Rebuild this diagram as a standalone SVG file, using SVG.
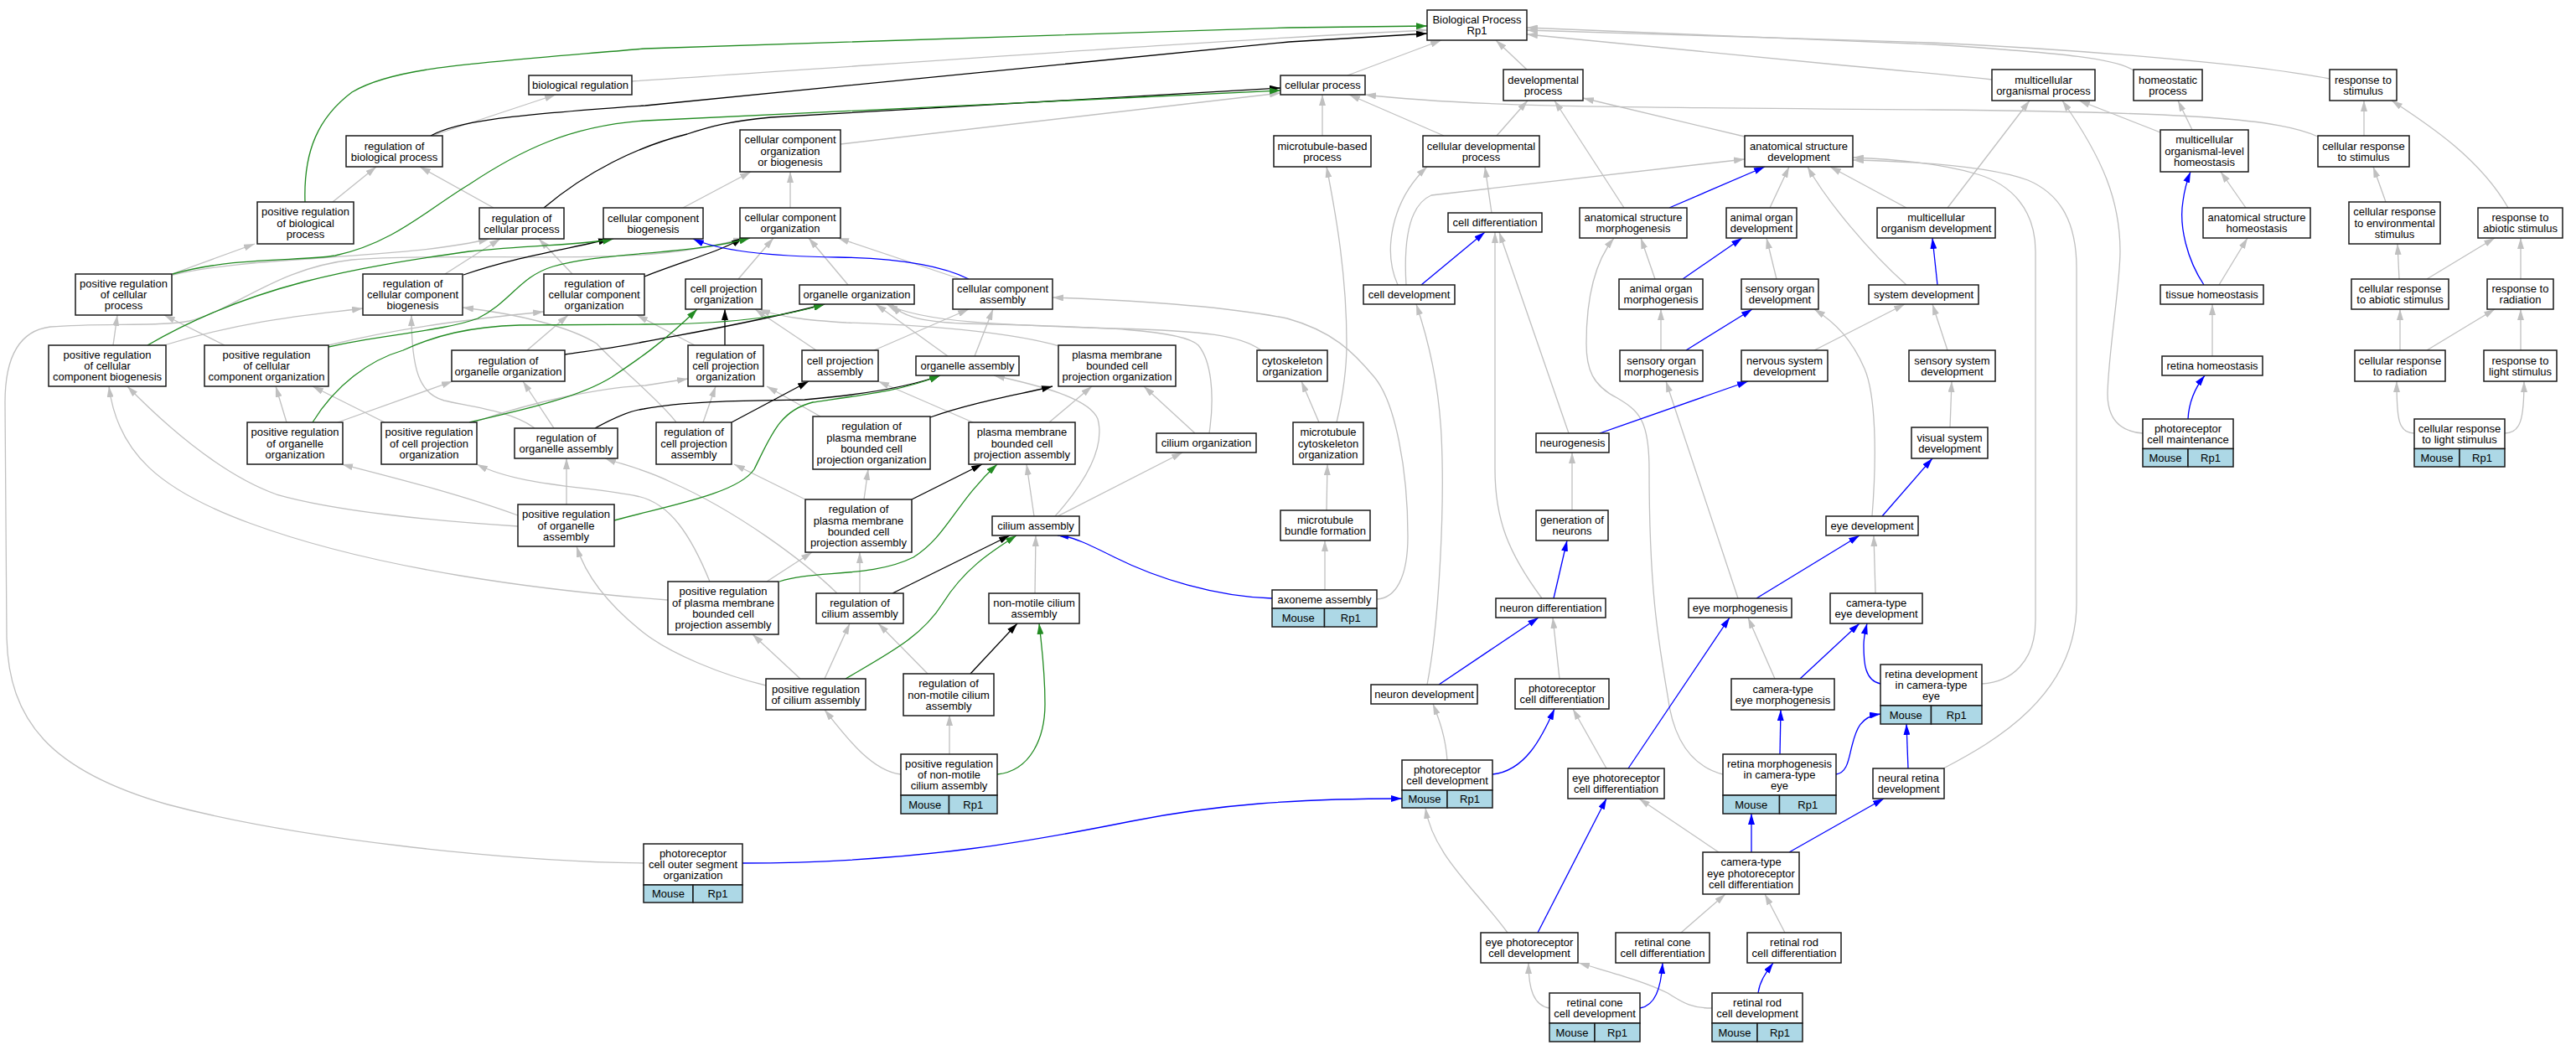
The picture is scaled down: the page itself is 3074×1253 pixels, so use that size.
<svg xmlns="http://www.w3.org/2000/svg" width="3074" height="1253" viewBox="0 0 3074 1253">
<style>
rect{fill:#fff;stroke:#1a1a1a;stroke-width:1.5}
rect.gc{fill:#add8e6}
text{font-family:"Liberation Sans",Arial,sans-serif;font-size:13px;text-anchor:middle;fill:#000}
#edges path{fill:none;stroke-width:1.3}
path.g{stroke:#c0c0c0}
path.k{stroke:#000}
path.gr{stroke:#228b22}
path.b{stroke:#0000ff}
</style>
<defs>
<marker id="ag" viewBox="0 0 13 8" refX="13" refY="4" markerWidth="13" markerHeight="8" markerUnits="userSpaceOnUse" orient="auto"><path d="M0,0L13,4L0,8z" fill="#c0c0c0"/></marker>
<marker id="ak" viewBox="0 0 13 8" refX="13" refY="4" markerWidth="13" markerHeight="8" markerUnits="userSpaceOnUse" orient="auto"><path d="M0,0L13,4L0,8z" fill="#000"/></marker>
<marker id="agr" viewBox="0 0 13 8" refX="13" refY="4" markerWidth="13" markerHeight="8" markerUnits="userSpaceOnUse" orient="auto"><path d="M0,0L13,4L0,8z" fill="#228b22"/></marker>
<marker id="ab" viewBox="0 0 13 8" refX="13" refY="4" markerWidth="13" markerHeight="8" markerUnits="userSpaceOnUse" orient="auto"><path d="M0,0L13,4L0,8z" fill="#0000ff"/></marker>
</defs>
<rect x="0" y="0" width="3074" height="1253" style="fill:#fff;stroke:none"/>
<g id="edges">
<g marker-end="url(#ag)">
<path class="g" d="M754,97 C1100,74 1450,48 1703,36"/>
<path class="g" d="M1608,90 L1720,48"/>
<path class="g" d="M1822,83 L1785,48"/>
<path class="g" d="M2377,95 C2340,91 2300,87 2200,78 L1822,41"/>
<path class="g" d="M2546,84 C2525,70 2470,64 2306,53 L1822,33"/>
<path class="g" d="M2780,94 C2700,78 2500,60 2306,51 L1822,36"/>
<path class="g" d="M515,162 L663,113"/>
<path class="g" d="M397,241 L449,199"/>
<path class="g" d="M589,248 L501,199"/>
<path class="g" d="M205,327 L304,291"/>
<path class="g" d="M206,328 C300,305 480,310 584,285"/>
<path class="g" d="M1003,172 L1528,111"/>
<path class="g" d="M1578,162 L1578,113"/>
<path class="g" d="M1723,162 L1610,113"/>
<path class="g" d="M1786,162 L1823,120"/>
<path class="g" d="M2082,163 L1889,117"/>
<path class="g" d="M2766,163 C2720,142 2620,134 2306,131 C1900,128 1750,127 1629,113"/>
<path class="g" d="M815,248 L896,205"/>
<path class="g" d="M943,248 L943,205"/>
<path class="g" d="M1780,254 L1772,199"/>
<path class="g" d="M1668,340 C1650,300 1660,240 1703,199"/>
<path class="g" d="M1678,340 C1675,290 1680,245 1708,233 L2082,190"/>
<path class="g" d="M1938,248 L1855,120"/>
<path class="g" d="M2112,248 L2135,199"/>
<path class="g" d="M2275,248 L2184,199"/>
<path class="g" d="M2324,248 L2422,120"/>
<path class="g" d="M2275,340 C2230,300 2180,240 2157,199"/>
<path class="g" d="M1975,333 L1958,284"/>
<path class="g" d="M2120,333 L2108,284"/>
<path class="g" d="M1982,418 L1982,369"/>
<path class="g" d="M2165,418 L2273,363"/>
<path class="g" d="M2324,418 L2306,363"/>
<path class="g" d="M2234,616 C2240,540 2238,470 2225,440 C2210,405 2190,385 2165,369"/>
<path class="g" d="M2327,510 L2329,455"/>
<path class="g" d="M1872,517 L1789,277"/>
<path class="g" d="M1840,714 C1800,660 1784,620 1784,560 L1784,277"/>
<path class="g" d="M1876,609 L1876,540"/>
<path class="g" d="M2074,714 L1988,455"/>
<path class="g" d="M2238,708 L2236,639"/>
<path class="g" d="M1703,817 C1718,740 1724,600 1720,520 C1717,460 1706,410 1690,363"/>
<path class="g" d="M1861,810 L1853,737"/>
<path class="g" d="M2118,810 L2086,737"/>
<path class="g" d="M1727,907 C1725,880 1718,860 1710,840"/>
<path class="g" d="M2056,924 C2010,912 1995,870 1990,830 C1978,760 1968,700 1968,560 C1968,500 1955,490 1930,475 C1900,460 1893,440 1893,410 C1893,350 1905,310 1926,284"/>
<path class="g" d="M1917,917 L1877,846"/>
<path class="g" d="M2051,1017 L1956,953"/>
<path class="g" d="M1799,1113 C1760,1060 1710,1020 1701,964"/>
<path class="g" d="M2006,1113 L2059,1067"/>
<path class="g" d="M2130,1113 L2106,1067"/>
<path class="g" d="M1849,1203 C1830,1200 1824,1180 1824,1149"/>
<path class="g" d="M2043,1203 C2020,1203 2010,1198 1990,1185 C1960,1170 1920,1160 1884,1149"/>
<path class="g" d="M2365,816 C2400,814 2429,790 2429,740 L2429,300 C2429,250 2400,220 2360,208 C2320,196 2260,190 2211,188"/>
<path class="g" d="M2319,917 C2380,885 2478,830 2478,720 L2478,320 C2478,260 2455,230 2420,215 C2380,200 2300,193 2211,191"/>
<path class="g" d="M2557,517 C2530,515 2515,500 2515,470 C2516,420 2530,340 2530,300 C2530,240 2510,190 2461,120"/>
<path class="g" d="M2640,425 L2640,363"/>
<path class="g" d="M2648,340 L2682,284"/>
<path class="g" d="M2680,248 L2650,205"/>
<path class="g" d="M2616,155 L2599,120"/>
<path class="g" d="M2578,158 L2481,120"/>
<path class="g" d="M2821,162 L2821,120"/>
<path class="g" d="M2847,241 L2832,199"/>
<path class="g" d="M2993,248 C2960,190 2900,150 2854,120"/>
<path class="g" d="M2863,333 L2861,291"/>
<path class="g" d="M2896,333 L2977,284"/>
<path class="g" d="M3008,333 L3008,284"/>
<path class="g" d="M2864,418 L2864,369"/>
<path class="g" d="M2896,418 L2977,369"/>
<path class="g" d="M3008,418 L3008,369"/>
<path class="g" d="M2881,517 C2862,517 2860,500 2860,455"/>
<path class="g" d="M2989,517 C3008,517 3012,500 3012,455"/>
<path class="g" d="M135,412 L140,376"/>
<path class="g" d="M268,412 L196,376"/>
<path class="g" d="M196,412 C300,380 380,375 433,368"/>
<path class="g" d="M392,412 C480,390 570,380 649,372"/>
<path class="g" d="M531,327 L597,285"/>
<path class="g" d="M683,327 L643,285"/>
<path class="g" d="M629,418 L678,376"/>
<path class="g" d="M829,412 L760,376"/>
<path class="g" d="M638,511 C610,490 560,485 530,478 C500,470 491,440 491,376"/>
<path class="g" d="M807,504 C790,480 740,440 712,410 C680,390 620,375 552,367"/>
<path class="g" d="M839,504 L854,461"/>
<path class="g" d="M979,497 L915,461"/>
<path class="g" d="M974,418 L901,369"/>
<path class="g" d="M1043,418 L1156,369"/>
<path class="g" d="M1131,425 L1045,363"/>
<path class="g" d="M1163,425 L1185,369"/>
<path class="g" d="M1264,413 C1200,395 1100,388 1010,385 C960,382 930,378 906,369"/>
<path class="g" d="M1252,504 L1303,461"/>
<path class="g" d="M1161,504 L1048,455"/>
<path class="g" d="M1426,517 L1365,461"/>
<path class="g" d="M1443,517 C1450,470 1445,430 1430,412 C1410,392 1300,390 1150,386 C1095,384 1075,376 1064,363"/>
<path class="g" d="M1505,418 C1480,400 1440,395 1330,392 C1200,388 1100,385 1058,363"/>
<path class="g" d="M1031,596 L1036,560"/>
<path class="g" d="M961,596 L876,554"/>
<path class="g" d="M1234,616 L1225,554"/>
<path class="g" d="M1259,616 C1300,570 1318,530 1310,500 C1300,475 1240,460 1186,448"/>
<path class="g" d="M1262,616 L1411,540"/>
<path class="g" d="M459,504 L373,461"/>
<path class="g" d="M342,504 L329,461"/>
<path class="g" d="M403,504 L540,455"/>
<path class="g" d="M565,504 C640,478 720,462 770,460 L821,452"/>
<path class="g" d="M661,511 L624,455"/>
<path class="g" d="M676,602 L676,547"/>
<path class="g" d="M618,615 C550,590 470,570 408,554"/>
<path class="g" d="M618,628 C520,622 400,610 330,590 C260,565 190,500 152,461"/>
<path class="g" d="M797,716 C650,705 450,680 300,625 C190,585 140,540 130,461"/>
<path class="g" d="M847,694 C825,640 800,600 760,592 C700,580 620,580 569,554"/>
<path class="g" d="M915,694 L969,659"/>
<path class="g" d="M1026,708 L1026,659"/>
<path class="g" d="M999,708 C960,670 880,610 800,575 C770,560 745,555 722,547"/>
<path class="g" d="M984,810 L1014,744"/>
<path class="g" d="M955,810 L898,757"/>
<path class="g" d="M914,818 C860,805 800,780 768,755 C730,725 700,690 688,652"/>
<path class="g" d="M1107,804 L1048,744"/>
<path class="g" d="M1235,708 L1236,639"/>
<path class="g" d="M1133,900 L1133,853"/>
<path class="g" d="M1075,924 C1040,920 1010,880 984,847"/>
<path class="g" d="M1581,704 L1581,645"/>
<path class="g" d="M1583,609 L1584,554"/>
<path class="g" d="M1574,504 L1553,455"/>
<path class="g" d="M1595,504 C1603,470 1607,440 1607,410 C1607,330 1595,260 1583,199"/>
<path class="g" d="M1643,715 C1665,714 1680,690 1680,640 C1680,560 1665,480 1640,450 C1615,420 1590,395 1536,380 C1460,365 1340,358 1256,355"/>
<path class="g" d="M768,1030 C600,1028 350,1000 200,960 C60,920 10,860 8,760 L6,480 C6,430 20,395 60,390 C120,385 190,390 226,383 C280,370 330,320 420,310 C520,302 700,312 790,302 C830,298 860,292 888,284"/>
<path class="g" d="M881,333 L923,284"/>
<path class="g" d="M1012,340 L965,284"/>
<path class="g" d="M1146,333 L1000,284"/>
</g>
<g marker-end="url(#ak)">
<path class="k" d="M514,162 C545,145 600,138 770,126 L1538,50 L1703,40"/>
<path class="k" d="M649,248 C700,205 760,175 820,160 C850,150 870,145 920,140 L1528,105"/>
<path class="k" d="M553,328 C620,305 690,295 727,285"/>
<path class="k" d="M769,330 C820,310 860,300 886,284"/>
<path class="k" d="M674,423 C700,419 740,414 768,408 C820,398 900,385 984,363"/>
<path class="k" d="M865,412 L865,369"/>
<path class="k" d="M873,504 L965,455"/>
<path class="k" d="M710,511 C730,500 750,490 768,488 C820,478 900,478 960,477 C1040,470 1090,460 1122,448"/>
<path class="k" d="M1110,498 C1160,480 1220,470 1256,461"/>
<path class="k" d="M1088,596 L1172,554"/>
<path class="k" d="M1065,708 L1205,639"/>
<path class="k" d="M1158,804 L1214,744"/>
</g>
<g marker-end="url(#agr)">
<path class="gr" d="M364,241 C362,180 380,140 420,110 C470,80 560,76 770,58 L1538,33 L1703,31"/>
<path class="gr" d="M206,327 C280,306 360,312 400,305 C470,290 510,250 560,220 C620,180 680,150 770,144 L1528,108"/>
<path class="gr" d="M176,412 C300,340 420,320 560,300 C640,292 700,292 732,285"/>
<path class="gr" d="M392,414 C450,400 530,395 570,380 C610,360 620,330 660,318 C720,300 820,305 895,284"/>
<path class="gr" d="M373,504 C400,460 440,430 481,418 C520,400 560,390 620,388 L770,387 C850,387 930,380 984,363"/>
<path class="gr" d="M560,504 C620,490 690,475 730,450 C760,430 790,410 832,369"/>
<path class="gr" d="M733,621 C790,605 880,590 900,560 C920,520 930,490 970,480 C1040,470 1080,465 1122,448"/>
<path class="gr" d="M930,694 C970,680 1040,690 1090,665 C1130,640 1140,600 1190,554"/>
<path class="gr" d="M1009,810 C1060,780 1100,760 1125,720 C1150,680 1180,660 1213,639"/>
<path class="gr" d="M1190,924 C1230,920 1247,880 1247,840 C1247,800 1243,770 1240,744"/>
</g>
<g marker-end="url(#ab)">
<path class="b" d="M1156,333 C1120,315 1060,308 1000,307 C920,306 860,300 827,285"/>
<path class="b" d="M1696,340 L1772,277"/>
<path class="b" d="M1992,248 L2106,199"/>
<path class="b" d="M2008,333 L2079,284"/>
<path class="b" d="M2312,340 L2306,284"/>
<path class="b" d="M2012,418 L2091,369"/>
<path class="b" d="M1909,517 L2086,455"/>
<path class="b" d="M2246,616 L2306,547"/>
<path class="b" d="M2096,714 L2219,639"/>
<path class="b" d="M1854,714 L1870,645"/>
<path class="b" d="M1717,817 L1836,737"/>
<path class="b" d="M2148,810 L2219,744"/>
<path class="b" d="M2244,816 C2225,812 2224,790 2224,770 C2224,760 2226,752 2228,744"/>
<path class="b" d="M2630,340 C2610,310 2600,270 2605,240 C2607,225 2610,215 2614,205"/>
<path class="b" d="M2611,500 C2612,480 2620,462 2631,448"/>
<path class="b" d="M1781,924 C1820,920 1840,880 1855,846"/>
<path class="b" d="M1943,917 L2064,737"/>
<path class="b" d="M2124,900 L2125,847"/>
<path class="b" d="M2191,924 C2205,922 2206,905 2210,890 C2215,870 2220,855 2244,852"/>
<path class="b" d="M2277,917 L2275,864"/>
<path class="b" d="M2090,1017 L2090,971"/>
<path class="b" d="M2135,1017 L2248,953"/>
<path class="b" d="M1835,1113 L1917,953"/>
<path class="b" d="M1957,1203 C1975,1200 1982,1180 1984,1149"/>
<path class="b" d="M2098,1185 C2100,1170 2108,1160 2116,1149"/>
<path class="b" d="M886,1030 C1100,1030 1250,1000 1350,980 C1450,960 1550,953 1673,953"/>
<path class="b" d="M1518,714 C1450,712 1380,690 1330,665 C1300,650 1280,640 1262,639"/>
</g>
</g>
<g id="nodes">
<g id="n_bp"><rect x="1703" y="12" width="119" height="36"/><text><tspan x="1762.5" y="28">Biological Process</tspan><tspan x="1762.5" y="41.3">Rp1</tspan></text></g>
<g id="n_bioreg"><rect x="631" y="90" width="123" height="23"/><text x="692.5" y="106.1">biological regulation</text></g>
<g id="n_cellproc"><rect x="1528" y="90" width="101" height="23"/><text x="1578.5" y="106.1">cellular process</text></g>
<g id="n_devproc"><rect x="1794" y="83" width="95" height="37"/><text><tspan x="1841.5" y="99.5">developmental</tspan><tspan x="1841.5" y="112.8">process</tspan></text></g>
<g id="n_mop"><rect x="2377" y="83" width="123" height="37"/><text><tspan x="2438.5" y="99.5">multicellular</tspan><tspan x="2438.5" y="112.8">organismal process</tspan></text></g>
<g id="n_homeo"><rect x="2546" y="83" width="82" height="37"/><text><tspan x="2587" y="99.5">homeostatic</tspan><tspan x="2587" y="112.8">process</tspan></text></g>
<g id="n_rts"><rect x="2780" y="83" width="80" height="37"/><text><tspan x="2820" y="99.5">response to</tspan><tspan x="2820" y="112.8">stimulus</tspan></text></g>
<g id="n_regbp"><rect x="413" y="162" width="115" height="37"/><text><tspan x="470.5" y="178.5">regulation of</tspan><tspan x="470.5" y="191.8">biological process</tspan></text></g>
<g id="n_ccoob"><rect x="883" y="155" width="120" height="50"/><text><tspan x="943" y="171.3">cellular component</tspan><tspan x="943" y="184.6">organization</tspan><tspan x="943" y="197.9">or biogenesis</tspan></text></g>
<g id="n_mtbp"><rect x="1520" y="162" width="116" height="37"/><text><tspan x="1578" y="178.5">microtubule-based</tspan><tspan x="1578" y="191.8">process</tspan></text></g>
<g id="n_cdp"><rect x="1698" y="162" width="139" height="37"/><text><tspan x="1767.5" y="178.5">cellular developmental</tspan><tspan x="1767.5" y="191.8">process</tspan></text></g>
<g id="n_asd"><rect x="2082" y="162" width="129" height="37"/><text><tspan x="2146.5" y="178.5">anatomical structure</tspan><tspan x="2146.5" y="191.8">development</tspan></text></g>
<g id="n_molh"><rect x="2578" y="155" width="105" height="50"/><text><tspan x="2630.5" y="171.3">multicellular</tspan><tspan x="2630.5" y="184.6">organismal-level</tspan><tspan x="2630.5" y="197.9">homeostasis</tspan></text></g>
<g id="n_crs"><rect x="2766" y="162" width="109" height="37"/><text><tspan x="2820.5" y="178.5">cellular response</tspan><tspan x="2820.5" y="191.8">to stimulus</tspan></text></g>
<g id="n_posregbp"><rect x="307" y="241" width="115" height="50"/><text><tspan x="364.5" y="257.3">positive regulation</tspan><tspan x="364.5" y="270.6">of biological</tspan><tspan x="364.5" y="283.9">process</tspan></text></g>
<g id="n_regcp"><rect x="572" y="248" width="101" height="37"/><text><tspan x="622.5" y="264.5">regulation of</tspan><tspan x="622.5" y="277.8">cellular process</tspan></text></g>
<g id="n_ccb"><rect x="720" y="248" width="119" height="37"/><text><tspan x="779.5" y="264.5">cellular component</tspan><tspan x="779.5" y="277.8">biogenesis</tspan></text></g>
<g id="n_cco"><rect x="883" y="248" width="120" height="36"/><text><tspan x="943" y="264">cellular component</tspan><tspan x="943" y="277.3">organization</tspan></text></g>
<g id="n_celldiff"><rect x="1728" y="254" width="112" height="23"/><text x="1784" y="270.1">cell differentiation</text></g>
<g id="n_asm"><rect x="1885" y="248" width="128" height="36"/><text><tspan x="1949" y="264">anatomical structure</tspan><tspan x="1949" y="277.3">morphogenesis</tspan></text></g>
<g id="n_aod"><rect x="2060" y="248" width="84" height="36"/><text><tspan x="2102" y="264">animal organ</tspan><tspan x="2102" y="277.3">development</tspan></text></g>
<g id="n_mod"><rect x="2240" y="248" width="141" height="36"/><text><tspan x="2310.5" y="264">multicellular</tspan><tspan x="2310.5" y="277.3">organism development</tspan></text></g>
<g id="n_ash"><rect x="2629" y="248" width="128" height="36"/><text><tspan x="2693" y="264">anatomical structure</tspan><tspan x="2693" y="277.3">homeostasis</tspan></text></g>
<g id="n_cres"><rect x="2803" y="241" width="109" height="50"/><text><tspan x="2857.5" y="257.3">cellular response</tspan><tspan x="2857.5" y="270.6">to environmental</tspan><tspan x="2857.5" y="283.9">stimulus</tspan></text></g>
<g id="n_ras"><rect x="2957" y="248" width="101" height="36"/><text><tspan x="3007.5" y="264">response to</tspan><tspan x="3007.5" y="277.3">abiotic stimulus</tspan></text></g>
<g id="n_posregcp"><rect x="90" y="327" width="115" height="49"/><text><tspan x="147.5" y="342.8">positive regulation</tspan><tspan x="147.5" y="356.1">of cellular</tspan><tspan x="147.5" y="369.4">process</tspan></text></g>
<g id="n_regccb"><rect x="433" y="327" width="119" height="49"/><text><tspan x="492.5" y="342.8">regulation of</tspan><tspan x="492.5" y="356.1">cellular component</tspan><tspan x="492.5" y="369.4">biogenesis</tspan></text></g>
<g id="n_regcco"><rect x="649" y="327" width="120" height="49"/><text><tspan x="709" y="342.8">regulation of</tspan><tspan x="709" y="356.1">cellular component</tspan><tspan x="709" y="369.4">organization</tspan></text></g>
<g id="n_cpo"><rect x="818" y="333" width="91" height="36"/><text><tspan x="863.5" y="349">cell projection</tspan><tspan x="863.5" y="362.3">organization</tspan></text></g>
<g id="n_oo"><rect x="954" y="340" width="137" height="23"/><text x="1022.5" y="356.1">organelle organization</text></g>
<g id="n_cca"><rect x="1137" y="333" width="119" height="36"/><text><tspan x="1196.5" y="349">cellular component</tspan><tspan x="1196.5" y="362.3">assembly</tspan></text></g>
<g id="n_celldev"><rect x="1627" y="340" width="109" height="23"/><text x="1681.5" y="356.1">cell development</text></g>
<g id="n_aom"><rect x="1932" y="333" width="100" height="36"/><text><tspan x="1982" y="349">animal organ</tspan><tspan x="1982" y="362.3">morphogenesis</tspan></text></g>
<g id="n_sod"><rect x="2078" y="333" width="92" height="36"/><text><tspan x="2124" y="349">sensory organ</tspan><tspan x="2124" y="362.3">development</tspan></text></g>
<g id="n_sysdev"><rect x="2230" y="340" width="131" height="23"/><text x="2295.5" y="356.1">system development</text></g>
<g id="n_tissh"><rect x="2578" y="340" width="123" height="23"/><text x="2639.5" y="356.1">tissue homeostasis</text></g>
<g id="n_cras"><rect x="2806" y="333" width="116" height="36"/><text><tspan x="2864" y="349">cellular response</tspan><tspan x="2864" y="362.3">to abiotic stimulus</tspan></text></g>
<g id="n_rrad"><rect x="2968" y="333" width="79" height="36"/><text><tspan x="3007.5" y="349">response to</tspan><tspan x="3007.5" y="362.3">radiation</tspan></text></g>
<g id="n_posregccb"><rect x="58" y="412" width="140" height="49"/><text><tspan x="128" y="427.8">positive regulation</tspan><tspan x="128" y="441.1">of cellular</tspan><tspan x="128" y="454.4">component biogenesis</tspan></text></g>
<g id="n_posregcco"><rect x="244" y="412" width="148" height="49"/><text><tspan x="318" y="427.8">positive regulation</tspan><tspan x="318" y="441.1">of cellular</tspan><tspan x="318" y="454.4">component organization</tspan></text></g>
<g id="n_regoo"><rect x="539" y="418" width="135" height="37"/><text><tspan x="606.5" y="434.5">regulation of</tspan><tspan x="606.5" y="447.8">organelle organization</tspan></text></g>
<g id="n_regcpo"><rect x="821" y="412" width="90" height="49"/><text><tspan x="866" y="427.8">regulation of</tspan><tspan x="866" y="441.1">cell projection</tspan><tspan x="866" y="454.4">organization</tspan></text></g>
<g id="n_cpa"><rect x="957" y="418" width="91" height="37"/><text><tspan x="1002.5" y="434.5">cell projection</tspan><tspan x="1002.5" y="447.8">assembly</tspan></text></g>
<g id="n_oa"><rect x="1093" y="425" width="123" height="23"/><text x="1154.5" y="441.1">organelle assembly</text></g>
<g id="n_pmbcpo"><rect x="1263" y="412" width="140" height="49"/><text><tspan x="1333" y="427.8">plasma membrane</tspan><tspan x="1333" y="441.1">bounded cell</tspan><tspan x="1333" y="454.4">projection organization</tspan></text></g>
<g id="n_cso"><rect x="1500" y="418" width="84" height="37"/><text><tspan x="1542" y="434.5">cytoskeleton</tspan><tspan x="1542" y="447.8">organization</tspan></text></g>
<g id="n_som"><rect x="1933" y="418" width="99" height="37"/><text><tspan x="1982.5" y="434.5">sensory organ</tspan><tspan x="1982.5" y="447.8">morphogenesis</tspan></text></g>
<g id="n_nsd"><rect x="2078" y="418" width="103" height="37"/><text><tspan x="2129.5" y="434.5">nervous system</tspan><tspan x="2129.5" y="447.8">development</tspan></text></g>
<g id="n_ssd"><rect x="2278" y="418" width="103" height="37"/><text><tspan x="2329.5" y="434.5">sensory system</tspan><tspan x="2329.5" y="447.8">development</tspan></text></g>
<g id="n_reth"><rect x="2580" y="425" width="120" height="23"/><text x="2640" y="441.1">retina homeostasis</text></g>
<g id="n_crrad"><rect x="2810" y="418" width="108" height="37"/><text><tspan x="2864" y="434.5">cellular response</tspan><tspan x="2864" y="447.8">to radiation</tspan></text></g>
<g id="n_rls"><rect x="2964" y="418" width="87" height="37"/><text><tspan x="3007.5" y="434.5">response to</tspan><tspan x="3007.5" y="447.8">light stimulus</tspan></text></g>
<g id="n_posregoo"><rect x="295" y="504" width="114" height="50"/><text><tspan x="352" y="520.3">positive regulation</tspan><tspan x="352" y="533.6">of organelle</tspan><tspan x="352" y="546.9">organization</tspan></text></g>
<g id="n_posregcpo"><rect x="455" y="504" width="114" height="50"/><text><tspan x="512" y="520.3">positive regulation</tspan><tspan x="512" y="533.6">of cell projection</tspan><tspan x="512" y="546.9">organization</tspan></text></g>
<g id="n_regoa"><rect x="614" y="511" width="123" height="36"/><text><tspan x="675.5" y="527">regulation of</tspan><tspan x="675.5" y="540.3">organelle assembly</tspan></text></g>
<g id="n_regcpa"><rect x="783" y="504" width="90" height="50"/><text><tspan x="828" y="520.3">regulation of</tspan><tspan x="828" y="533.6">cell projection</tspan><tspan x="828" y="546.9">assembly</tspan></text></g>
<g id="n_regpmbcpo"><rect x="970" y="497" width="140" height="63"/><text><tspan x="1040" y="513.2">regulation of</tspan><tspan x="1040" y="526.5">plasma membrane</tspan><tspan x="1040" y="539.8">bounded cell</tspan><tspan x="1040" y="553.1">projection organization</tspan></text></g>
<g id="n_pmbcpa"><rect x="1156" y="504" width="127" height="50"/><text><tspan x="1219.5" y="520.3">plasma membrane</tspan><tspan x="1219.5" y="533.6">bounded cell</tspan><tspan x="1219.5" y="546.9">projection assembly</tspan></text></g>
<g id="n_cilo"><rect x="1380" y="517" width="119" height="23"/><text x="1439.5" y="533.1">cilium organization</text></g>
<g id="n_mtco"><rect x="1543" y="504" width="84" height="50"/><text><tspan x="1585" y="520.3">microtubule</tspan><tspan x="1585" y="533.6">cytoskeleton</tspan><tspan x="1585" y="546.9">organization</tspan></text></g>
<g id="n_neurog"><rect x="1833" y="517" width="87" height="23"/><text x="1876.5" y="533.1">neurogenesis</text></g>
<g id="n_vsd"><rect x="2281" y="510" width="91" height="37"/><text><tspan x="2326.5" y="526.5">visual system</tspan><tspan x="2326.5" y="539.8">development</tspan></text></g>
<g id="n_pcm"><rect x="2557" y="500" width="108" height="35.5"/><rect class="gc" x="2557" y="535.5" width="54" height="21.5"/><rect class="gc" x="2611" y="535.5" width="54" height="21.5"/><text><tspan x="2611" y="515.7">photoreceptor</tspan><tspan x="2611" y="529">cell maintenance</tspan></text><text x="2584" y="550.9">Mouse</text><text x="2638" y="550.9">Rp1</text></g>
<g id="n_crls"><rect x="2881" y="500" width="108" height="35.5"/><rect class="gc" x="2881" y="535.5" width="54" height="21.5"/><rect class="gc" x="2935" y="535.5" width="54" height="21.5"/><text><tspan x="2935" y="515.7">cellular response</tspan><tspan x="2935" y="529">to light stimulus</tspan></text><text x="2908" y="550.9">Mouse</text><text x="2962" y="550.9">Rp1</text></g>
<g id="n_posregoa"><rect x="618" y="602" width="115" height="50"/><text><tspan x="675.5" y="618.3">positive regulation</tspan><tspan x="675.5" y="631.6">of organelle</tspan><tspan x="675.5" y="644.9">assembly</tspan></text></g>
<g id="n_regpmbcpa"><rect x="961" y="596" width="127" height="63"/><text><tspan x="1024.5" y="612.2">regulation of</tspan><tspan x="1024.5" y="625.5">plasma membrane</tspan><tspan x="1024.5" y="638.8">bounded cell</tspan><tspan x="1024.5" y="652.1">projection assembly</tspan></text></g>
<g id="n_cila"><rect x="1184" y="616" width="104" height="23"/><text x="1236" y="632.1">cilium assembly</text></g>
<g id="n_mtbf"><rect x="1528" y="609" width="107" height="36"/><text><tspan x="1581.5" y="625">microtubule</tspan><tspan x="1581.5" y="638.3">bundle formation</tspan></text></g>
<g id="n_genneu"><rect x="1833" y="609" width="86" height="36"/><text><tspan x="1876" y="625">generation of</tspan><tspan x="1876" y="638.3">neurons</tspan></text></g>
<g id="n_eyedev"><rect x="2179" y="616" width="110" height="23"/><text x="2234" y="632.1">eye development</text></g>
<g id="n_posregpmbcpa"><rect x="797" y="694" width="132" height="63"/><text><tspan x="863" y="710.2">positive regulation</tspan><tspan x="863" y="723.5">of plasma membrane</tspan><tspan x="863" y="736.8">bounded cell</tspan><tspan x="863" y="750.1">projection assembly</tspan></text></g>
<g id="n_regcila"><rect x="974" y="708" width="104" height="36"/><text><tspan x="1026" y="724">regulation of</tspan><tspan x="1026" y="737.3">cilium assembly</tspan></text></g>
<g id="n_nmca"><rect x="1180" y="708" width="108" height="36"/><text><tspan x="1234" y="724">non-motile cilium</tspan><tspan x="1234" y="737.3">assembly</tspan></text></g>
<g id="n_axa"><rect x="1518" y="704" width="125" height="22"/><rect class="gc" x="1518" y="726" width="62.5" height="22"/><rect class="gc" x="1580.5" y="726" width="62.5" height="22"/><text x="1580.5" y="719.6">axoneme assembly</text><text x="1549.3" y="741.6">Mouse</text><text x="1611.8" y="741.6">Rp1</text></g>
<g id="n_neudiff"><rect x="1785" y="714" width="131" height="23"/><text x="1850.5" y="730.1">neuron differentiation</text></g>
<g id="n_eyemorph"><rect x="2015" y="714" width="123" height="23"/><text x="2076.5" y="730.1">eye morphogenesis</text></g>
<g id="n_cted"><rect x="2184" y="708" width="110" height="36"/><text><tspan x="2239" y="724">camera-type</tspan><tspan x="2239" y="737.3">eye development</tspan></text></g>
<g id="n_posregcila"><rect x="914" y="810" width="119" height="37"/><text><tspan x="973.5" y="826.5">positive regulation</tspan><tspan x="973.5" y="839.8">of cilium assembly</tspan></text></g>
<g id="n_regnmca"><rect x="1078" y="804" width="108" height="50"/><text><tspan x="1132" y="820.3">regulation of</tspan><tspan x="1132" y="833.6">non-motile cilium</tspan><tspan x="1132" y="846.9">assembly</tspan></text></g>
<g id="n_neudev"><rect x="1636" y="817" width="127" height="23"/><text x="1699.5" y="833.1">neuron development</text></g>
<g id="n_pcd"><rect x="1808" y="810" width="112" height="36"/><text><tspan x="1864" y="826">photoreceptor</tspan><tspan x="1864" y="839.3">cell differentiation</tspan></text></g>
<g id="n_ctem"><rect x="2066" y="810" width="123" height="37"/><text><tspan x="2127.5" y="826.5">camera-type</tspan><tspan x="2127.5" y="839.8">eye morphogenesis</tspan></text></g>
<g id="n_retdev"><rect x="2244" y="793" width="121" height="49"/><rect class="gc" x="2244" y="842" width="60.5" height="22"/><rect class="gc" x="2304.5" y="842" width="60.5" height="22"/><text><tspan x="2304.5" y="808.8">retina development</tspan><tspan x="2304.5" y="822.1">in camera-type</tspan><tspan x="2304.5" y="835.4">eye</tspan></text><text x="2274.3" y="857.6">Mouse</text><text x="2334.8" y="857.6">Rp1</text></g>
<g id="n_posregnmca"><rect x="1075" y="900" width="115" height="49"/><rect class="gc" x="1075" y="949" width="57.5" height="22"/><rect class="gc" x="1132.5" y="949" width="57.5" height="22"/><text><tspan x="1132.5" y="915.8">positive regulation</tspan><tspan x="1132.5" y="929.1">of non-motile</tspan><tspan x="1132.5" y="942.4">cilium assembly</tspan></text><text x="1103.8" y="964.6">Mouse</text><text x="1161.3" y="964.6">Rp1</text></g>
<g id="n_pcdev"><rect x="1673" y="907" width="108" height="36"/><rect class="gc" x="1673" y="943" width="54" height="21"/><rect class="gc" x="1727" y="943" width="54" height="21"/><text><tspan x="1727" y="923">photoreceptor</tspan><tspan x="1727" y="936.3">cell development</tspan></text><text x="1700" y="958.1">Mouse</text><text x="1754" y="958.1">Rp1</text></g>
<g id="n_epcd"><rect x="1871" y="917" width="115" height="36"/><text><tspan x="1928.5" y="933">eye photoreceptor</tspan><tspan x="1928.5" y="946.3">cell differentiation</tspan></text></g>
<g id="n_retmorph"><rect x="2056" y="900" width="135" height="49"/><rect class="gc" x="2056" y="949" width="67.5" height="22"/><rect class="gc" x="2123.5" y="949" width="67.5" height="22"/><text><tspan x="2123.5" y="915.8">retina morphogenesis</tspan><tspan x="2123.5" y="929.1">in camera-type</tspan><tspan x="2123.5" y="942.4">eye</tspan></text><text x="2089.8" y="964.6">Mouse</text><text x="2157.3" y="964.6">Rp1</text></g>
<g id="n_nrd"><rect x="2235" y="917" width="85" height="36"/><text><tspan x="2277.5" y="933">neural retina</tspan><tspan x="2277.5" y="946.3">development</tspan></text></g>
<g id="n_pcos"><rect x="768" y="1007" width="118" height="49"/><rect class="gc" x="768" y="1056" width="59" height="21"/><rect class="gc" x="827" y="1056" width="59" height="21"/><text><tspan x="827" y="1022.8">photoreceptor</tspan><tspan x="827" y="1036.1">cell outer segment</tspan><tspan x="827" y="1049.4">organization</tspan></text><text x="797.5" y="1071.1">Mouse</text><text x="856.5" y="1071.1">Rp1</text></g>
<g id="n_ctepcd"><rect x="2032" y="1017" width="115" height="50"/><text><tspan x="2089.5" y="1033.3">camera-type</tspan><tspan x="2089.5" y="1046.6">eye photoreceptor</tspan><tspan x="2089.5" y="1059.9">cell differentiation</tspan></text></g>
<g id="n_epcdev"><rect x="1767" y="1113" width="116" height="36"/><text><tspan x="1825" y="1129">eye photoreceptor</tspan><tspan x="1825" y="1142.3">cell development</tspan></text></g>
<g id="n_rccd"><rect x="1928" y="1113" width="112" height="36"/><text><tspan x="1984" y="1129">retinal cone</tspan><tspan x="1984" y="1142.3">cell differentiation</tspan></text></g>
<g id="n_rrcd"><rect x="2085" y="1113" width="112" height="36"/><text><tspan x="2141" y="1129">retinal rod</tspan><tspan x="2141" y="1142.3">cell differentiation</tspan></text></g>
<g id="n_rccdev"><rect x="1849" y="1185" width="108" height="36"/><rect class="gc" x="1849" y="1221" width="54" height="22"/><rect class="gc" x="1903" y="1221" width="54" height="22"/><text><tspan x="1903" y="1201">retinal cone</tspan><tspan x="1903" y="1214.3">cell development</tspan></text><text x="1876" y="1236.6">Mouse</text><text x="1930" y="1236.6">Rp1</text></g>
<g id="n_rrcdev"><rect x="2043" y="1185" width="108" height="36"/><rect class="gc" x="2043" y="1221" width="54" height="22"/><rect class="gc" x="2097" y="1221" width="54" height="22"/><text><tspan x="2097" y="1201">retinal rod</tspan><tspan x="2097" y="1214.3">cell development</tspan></text><text x="2070" y="1236.6">Mouse</text><text x="2124" y="1236.6">Rp1</text></g>
</g>
</svg>
